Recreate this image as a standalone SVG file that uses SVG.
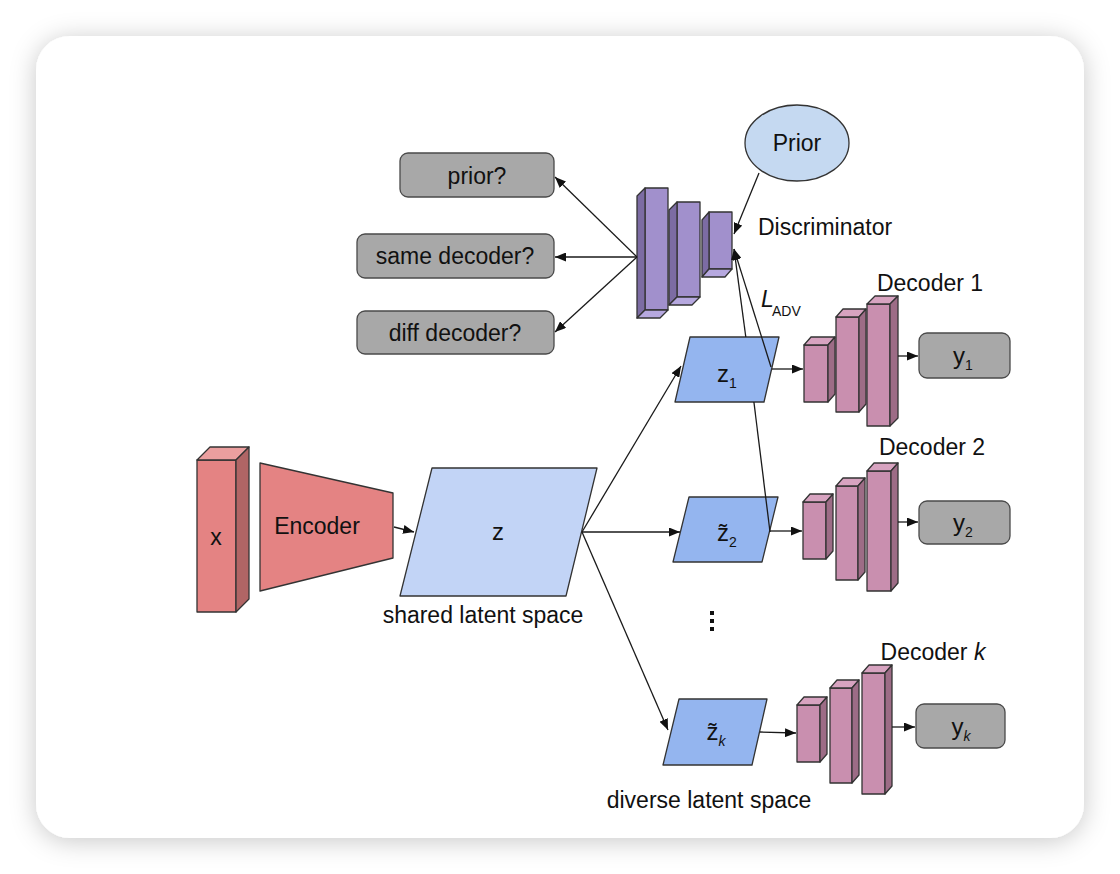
<svg xmlns="http://www.w3.org/2000/svg" width="1120" height="874" viewBox="0 0 1120 874">
<defs>
<filter id="shadow" x="-10%" y="-10%" width="120%" height="120%">
<feDropShadow dx="0" dy="3" stdDeviation="13" flood-color="#000" flood-opacity="0.22"/>
</filter>
<marker id="ah" markerUnits="userSpaceOnUse" markerWidth="11" markerHeight="9" refX="11" refY="4.5" orient="auto">
<path d="M0,0 L11,4.5 L0,9 z" fill="#111"/>
</marker>
<style>
text{font-family:"Liberation Sans",Arial,sans-serif;font-size:23px;fill:#111}
.lb{font-size:24px}
.ln{stroke:#1a1a1a;stroke-width:1.3;fill:none}
.ar{stroke:#1a1a1a;stroke-width:1.3;fill:none;marker-end:url(#ah)}
.s{stroke:#333;stroke-width:1.3;stroke-linejoin:round}
.rf{fill:#e48383}.rs{fill:#b06565}.rt{fill:#eb9f9f}
.pf{fill:#a190cc}.ps{fill:#7c6ca3}.pb{fill:#b6a8df}
.kf{fill:#c98faf}.ks{fill:#9d6c86}.kt{fill:#d7a3c0}
.gb{fill:#a8a8a8;stroke:#4a4a4a;stroke-width:1.3}
.zl{fill:#c2d4f6}.zd{fill:#94b5ef}
.sub{font-size:14px}
</style>
</defs>
<rect x="0" y="0" width="1120" height="874" fill="#ffffff"/>
<rect x="36" y="36" width="1048" height="802" rx="34" fill="#ffffff" filter="url(#shadow)"/>

<g id="x-input">
<rect class="rf s" x="197" y="460" width="39" height="152"/>
<polygon class="rt s" points="197,460 210,447 249,447 236,460"/>
<polygon class="rs s" points="236,460 249,447 249,599 236,612"/>
<text x="216" y="545" text-anchor="middle">x</text>
</g>

<g id="encoder">
<polygon class="rf s" points="260,463 393,493 393,558 260,591"/>
<text x="317" y="534" text-anchor="middle">Encoder</text>
</g>

<g id="z-shared">
<polygon class="zl s" points="432,468 597,468 566,596 400,596"/>
<text x="498" y="540" text-anchor="middle" class="lb">z</text>
<text x="483" y="623" text-anchor="middle">shared latent space</text>
</g>

<g id="z1">
<polygon class="zd s" points="690,337 779,337 764,402 675,402"/>
<text x="727" y="382" text-anchor="middle" class="lb">z<tspan class="sub" dy="6">1</tspan></text>
</g>

<g id="z2">
<polygon class="zd s" points="689,497 778,497 762,562 673,562"/>
<text x="727" y="541" text-anchor="middle" class="lb">z&#771;<tspan class="sub" dy="6">2</tspan></text>
</g>

<g id="zk">
<polygon class="zd s" points="679,699 767,699 752,765 663,765"/>
<text x="716" y="740" text-anchor="middle" class="lb">z&#771;<tspan class="sub" dy="6" font-style="italic">k</tspan></text>
<text x="709" y="808" text-anchor="middle">diverse latent space</text>
</g>

<g id="dots" fill="#111">
<rect x="710" y="611" width="4" height="4"/>
<rect x="710" y="619" width="4" height="4"/>
<rect x="710" y="627" width="4" height="4"/>
</g>

<g id="decoder1">
<rect class="kf s" x="804" y="345" width="24" height="57"/>
<polygon class="kt s" points="804,345 811,337 835,337 828,345"/>
<polygon class="ks s" points="828,345 835,337 835,394 828,402"/>
<rect class="kf s" x="836" y="317" width="23" height="95"/>
<polygon class="kt s" points="836,317 843,309 866,309 859,317"/>
<polygon class="ks s" points="859,317 866,309 866,404 859,412"/>
<rect class="kf s" x="867" y="304" width="23" height="122"/>
<polygon class="kt s" points="867,304 875,296 898,296 890,304"/>
<polygon class="ks s" points="890,304 898,296 898,418 890,426"/>
<text x="930" y="291" text-anchor="middle">Decoder 1</text>
</g>

<g id="y1">
<rect class="gb" x="919" y="333" width="91" height="45" rx="8"/>
<text x="963" y="364" text-anchor="middle" class="lb">y<tspan class="sub" dy="6">1</tspan></text>
</g>

<g id="decoder2">
<rect class="kf s" x="803" y="502" width="23" height="57"/>
<polygon class="kt s" points="803,502 810,494 833,494 826,502"/>
<polygon class="ks s" points="826,502 833,494 833,551 826,559"/>
<rect class="kf s" x="836" y="486" width="22" height="94"/>
<polygon class="kt s" points="836,486 843,478 865,478 858,486"/>
<polygon class="ks s" points="858,486 865,478 865,572 858,580"/>
<rect class="kf s" x="867" y="471" width="24" height="120"/>
<polygon class="kt s" points="867,471 874,463 898,463 891,471"/>
<polygon class="ks s" points="891,471 898,463 898,583 891,591"/>
<text x="932" y="455" text-anchor="middle">Decoder 2</text>
</g>

<g id="y2">
<rect class="gb" x="919" y="501" width="91" height="43" rx="8"/>
<text x="963" y="531" text-anchor="middle" class="lb">y<tspan class="sub" dy="6">2</tspan></text>
</g>

<g id="decoderk">
<rect class="kf s" x="797" y="705" width="23" height="57"/>
<polygon class="kt s" points="797,705 804,697 827,697 820,705"/>
<polygon class="ks s" points="820,705 827,697 827,754 820,762"/>
<rect class="kf s" x="830" y="688" width="22" height="95"/>
<polygon class="kt s" points="830,688 837,680 859,680 852,688"/>
<polygon class="ks s" points="852,688 859,680 859,775 852,783"/>
<rect class="kf s" x="862" y="673" width="23" height="121"/>
<polygon class="kt s" points="862,673 869,665 892,665 885,673"/>
<polygon class="ks s" points="885,673 892,665 892,786 885,794"/>
<text x="933" y="660" text-anchor="middle">Decoder <tspan font-style="italic">k</tspan></text>
</g>

<g id="yk">
<rect class="gb" x="916" y="704" width="89" height="44" rx="8"/>
<text x="961" y="735" text-anchor="middle" class="lb">y<tspan class="sub" dy="6" font-style="italic">k</tspan></text>
</g>

<g id="discriminator">
<rect class="pf s" x="645" y="188" width="23" height="122"/>
<polygon class="ps s" points="645,188 637,196 637,318 645,310"/>
<polygon class="pb s" points="645,310 637,318 660,318 668,310"/>
<rect class="pf s" x="677" y="202" width="23" height="95"/>
<polygon class="ps s" points="677,202 669,210 669,305 677,297"/>
<polygon class="pb s" points="677,297 669,305 692,305 700,297"/>
<rect class="pf s" x="709" y="212" width="23" height="57"/>
<polygon class="ps s" points="709,212 702,220 702,277 709,269"/>
<polygon class="pb s" points="709,269 702,277 725,277 732,269"/>
<text x="825" y="235" text-anchor="middle">Discriminator</text>
</g>

<g id="prior">
<ellipse cx="797" cy="143" rx="52" ry="38" fill="#c5d9f1" stroke="#333" stroke-width="1.3"/>
<text x="797" y="151" text-anchor="middle">Prior</text>
</g>

<g id="out-prior">
<rect class="gb" x="400" y="153" width="154" height="44" rx="8"/>
<text x="477" y="184" text-anchor="middle">prior?</text>
</g>
<g id="out-same">
<rect class="gb" x="357" y="234" width="197" height="44" rx="8"/>
<text x="455" y="264" text-anchor="middle">same decoder?</text>
</g>
<g id="out-diff">
<rect class="gb" x="357" y="311" width="197" height="43" rx="8"/>
<text x="455" y="341" text-anchor="middle">diff decoder?</text>
</g>

<g id="ladv">
<text x="761" y="307" font-style="italic">L</text>
<text x="772" y="316" class="sub">ADV</text>
</g>

<g id="connectors">
<path class="ar" d="M394,527 L414,532"/>
<path class="ar" d="M582,532 L681,366"/>
<path class="ar" d="M582,532 L680,532"/>
<path class="ar" d="M582,532 L668,730"/>
<path class="ar" d="M772,369 L803,369"/>
<path class="ar" d="M898,356 L918,356"/>
<path class="ar" d="M770,531 L802,531"/>
<path class="ar" d="M898,522 L918,522"/>
<path class="ar" d="M760,732 L796,733"/>
<path class="ar" d="M892,727 L915,727"/>
<path class="ar" d="M759,173 L734,234"/>
<path class="ar" d="M771,367 L734,249"/>
<path class="ln" d="M770,532 L753.9,402"/>
<path class="ar" d="M745.8,337 L734,249"/>
<path class="ar" d="M637,257 L555,177"/>
<path class="ar" d="M637,257 L555,257"/>
<path class="ar" d="M637,257 L555,332"/>
</g>
</svg>
